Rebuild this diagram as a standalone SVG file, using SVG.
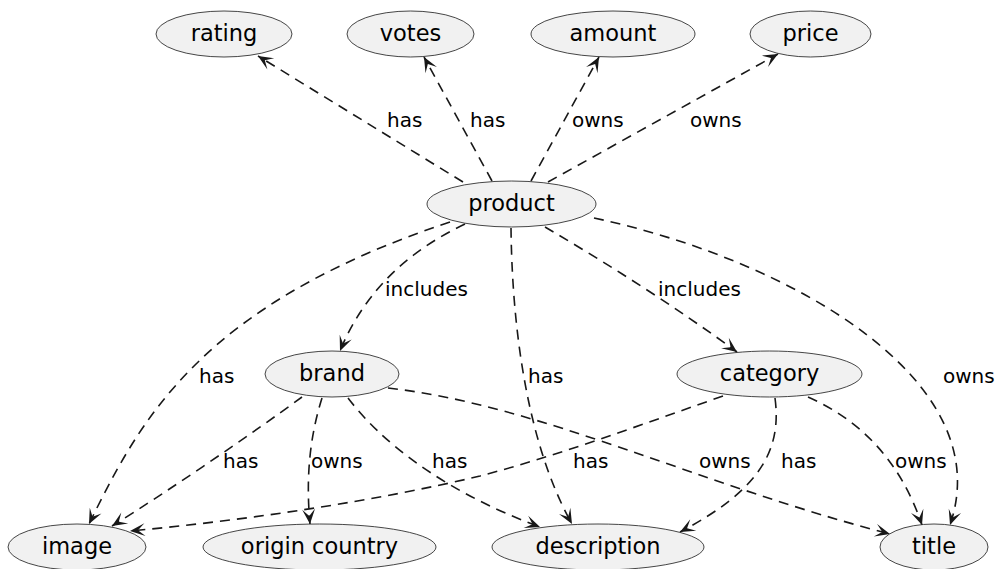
<svg xmlns="http://www.w3.org/2000/svg" width="998" height="569" viewBox="0 0 998 569">
<style>
.n ellipse{fill:#F1F1F1;stroke:#181818;stroke-width:0.8}
.n text{font-family:"DejaVu Sans",sans-serif;font-size:22.5px;fill:#000;text-anchor:middle}
.e path{fill:none;stroke:#181818;stroke-width:1.6;stroke-dasharray:10,7;marker-end:url(#arr)}
.l text{font-family:"DejaVu Sans",sans-serif;font-size:20px;fill:#000}
</style>
<defs>
<marker id="arr" markerUnits="userSpaceOnUse" orient="auto" markerWidth="20" markerHeight="20" refX="0" refY="0" overflow="visible">
<path d="M0,0 L-15,-6.5 L-8,0 L-15,6.5 Z" fill="#181818"/>
</marker>
</defs>
<rect width="998" height="569" fill="#FFFFFF"/>
<g id="connectors" class="e">
<path d="M463,182 L258,56"/>
<path d="M492,181 L424,57"/>
<path d="M531,181 L599,57"/>
<path d="M548,182 L778,54"/>
<path d="M465,224 C410,250 365,290 340,351"/>
<path d="M450,222 C200,305 140,420 89,524"/>
<path d="M511,228 C512,320 525,440 572,524"/>
<path d="M545,227 C610,265 680,310 737,352"/>
<path d="M594,218 C790,260 1000,380 950,525"/>
<path d="M302,397 C250,435 170,490 112,526"/>
<path d="M322,398 C312,430 305,470 310,524"/>
<path d="M348,398 C380,440 440,490 540,527"/>
<path d="M388,388 C540,405 700,485 890,534"/>
<path d="M723,396 C640,425 560,455 480,476 C380,500 250,520 130,531"/>
<path d="M775,398 C782,450 760,490 680,532"/>
<path d="M808,397 C860,420 900,460 922,525"/>
</g>
<g id="labels" class="l">
<text x="387" y="127">has</text>
<text x="470" y="127">has</text>
<text x="572" y="127">owns</text>
<text x="690" y="127">owns</text>
<text x="385" y="296">includes</text>
<text x="658" y="296">includes</text>
<text x="199" y="383">has</text>
<text x="528" y="383">has</text>
<text x="943" y="383">owns</text>
<text x="223" y="468">has</text>
<text x="311" y="468">owns</text>
<text x="432" y="468">has</text>
<text x="573" y="468">has</text>
<text x="699" y="468">owns</text>
<text x="781" y="468">has</text>
<text x="895" y="468">owns</text>
</g>
<g id="rating" class="n"><ellipse cx="224" cy="34" rx="68" ry="23"/><text x="224" y="41">rating</text></g>
<g id="votes" class="n"><ellipse cx="410.5" cy="34" rx="63.5" ry="23"/><text x="410.5" y="41">votes</text></g>
<g id="amount" class="n"><ellipse cx="613" cy="34" rx="82" ry="23"/><text x="613" y="41">amount</text></g>
<g id="price" class="n"><ellipse cx="810.5" cy="34" rx="60.5" ry="23"/><text x="810.5" y="41">price</text></g>
<g id="product" class="n"><ellipse cx="511.5" cy="204" rx="84.5" ry="23"/><text x="511.5" y="211">product</text></g>
<g id="brand" class="n"><ellipse cx="332" cy="374" rx="67" ry="23"/><text x="332" y="381">brand</text></g>
<g id="category" class="n"><ellipse cx="769.5" cy="374" rx="92.5" ry="23"/><text x="769.5" y="381">category</text></g>
<g id="image" class="n"><ellipse cx="77" cy="547" rx="69" ry="23"/><text x="77" y="554">image</text></g>
<g id="origin_country" class="n"><ellipse cx="319.5" cy="547" rx="116.5" ry="23"/><text x="319.5" y="554">origin country</text></g>
<g id="description" class="n"><ellipse cx="598" cy="547" rx="106" ry="23"/><text x="598" y="554">description</text></g>
<g id="title" class="n"><ellipse cx="934" cy="547" rx="54" ry="23"/><text x="934" y="554">title</text></g>
</svg>
